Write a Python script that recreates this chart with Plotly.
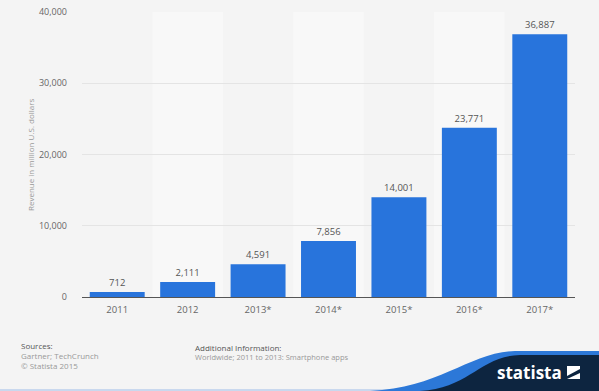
import plotly.graph_objects as go

years = ["2011", "2012", "2013*", "2014*", "2015*", "2016*", "2017*"]
revenue = [712, 2111, 4591, 7856, 14001, 23771, 36887]
value_labels = ["712", "2,111", "4,591", "7,856", "14,001", "23,771", "36,887"]
y_ticks = [0, 10000, 20000, 30000, 40000]
y_tick_labels = ["0", "10,000", "20,000", "30,000", "40,000"]

W, H = 599, 391
L, R, T, B = 82, 24, 12, 94
PW, PH = W - L - R, H - T - B
FONT = "Open Sans"


def px(x):
    return (x - L) / PW


def py(y):
    return (H - B - y) / PH


fig = go.Figure()
fig.add_trace(go.Bar(
    x=years, y=revenue, text=value_labels, textposition="outside",
    marker=dict(color="#2874dc", line=dict(width=0)),
    textfont=dict(color="#555555", size=9.5, family=FONT),
    cliponaxis=False, hoverinfo="skip",
))

shapes = []
# alternating column bands
for i in range(1, len(years), 2):
    shapes.append(dict(type="rect", xref="x", yref="paper", x0=i - 0.5, x1=i + 0.5,
                       y0=0, y1=1, fillcolor="#f8f8f8", line=dict(width=0), layer="below"))

# footer wave
blue_path = (f"M {px(370)},{py(391)} C {px(440)},{py(388)} {px(470)},{py(352)} {px(515)},{py(351)} "
             f"L {px(599)},{py(351)} L {px(599)},{py(391)} Z")
navy_path = (f"M {px(420)},{py(391)} C {px(470)},{py(388)} {px(480)},{py(356)} {px(520)},{py(355)} "
             f"L {px(599)},{py(355)} L {px(599)},{py(391)} Z")
shapes.append(dict(type="rect", xref="paper", yref="paper", x0=px(0), x1=px(599),
                   y0=py(391), y1=py(389), fillcolor="#c9d8ee", line=dict(width=0)))
shapes.append(dict(type="path", xref="paper", yref="paper", path=blue_path,
                   fillcolor="#2c78d8", line=dict(width=0)))
shapes.append(dict(type="path", xref="paper", yref="paper", path=navy_path,
                   fillcolor="#0d2540", line=dict(width=0)))
# logo icon
shapes.append(dict(type="rect", xref="paper", yref="paper", x0=px(567), x1=px(580),
                   y0=py(379), y1=py(366), fillcolor="#ffffff", line=dict(width=0)))
shapes.append(dict(type="path", xref="paper", yref="paper",
                   path=f"M {px(567)},{py(376)} L {px(580)},{py(369)} L {px(580)},{py(373)} L {px(567)},{py(379)} Z",
                   fillcolor="#0d2540", line=dict(width=0)))


def note(text, x, y, size, color, xanchor="left", angle=0, family=FONT):
    return dict(text=text, x=px(x), y=py(y), xref="paper", yref="paper", xanchor=xanchor,
                yanchor="middle", textangle=angle, showarrow=False,
                font=dict(size=size, color=color, family=family))


annotations = [
    note("Revenue in million U.S. dollars", 30, 155, 8, "#999999", xanchor="center", angle=-90),
    note("Sources:", 19, 345, 8, "#555555"),
    note("Gartner; TechCrunch", 19, 355, 8, "#999999"),
    note("© Statista 2015", 19, 365, 8, "#999999"),
    note("Additional Information:", 193, 347, 8, "#555555"),
    note("Worldwide; 2011 to 2013: Smartphone apps", 193, 357, 7.5, "#999999"),
    note("<b>statista</b>", 564, 372, 17, "#ffffff", xanchor="right"),
]

fig.update_layout(
    width=W, height=H, margin=dict(l=L, r=R, t=T, b=B, autoexpand=False),
    paper_bgcolor="#f4f4f4", plot_bgcolor="#f4f4f4",
    bargap=0.22, showlegend=False,
    shapes=shapes, annotations=annotations,
    font=dict(family=FONT, color="#666666", size=10),
    xaxis=dict(type="category", showgrid=False, showline=True, linecolor="#555555", linewidth=1,
               ticks="", ticklabelstandoff=4, tickfont=dict(size=9.5, color="#666666", family=FONT),
               fixedrange=True, automargin=False),
    yaxis=dict(range=[0, 40000], tickvals=y_ticks, ticktext=y_tick_labels, showgrid=True,
               gridcolor="#e4e4e4", gridwidth=1, zeroline=False, ticks="", ticklabelstandoff=14,
               tickfont=dict(size=9, color="#666666", family=FONT), fixedrange=True, automargin=False),
)

fig.write_html(
    "out.html",
    config={"displayModeBar": False},
    post_script="document.body.style.margin='0';document.body.style.background='#f4f4f4';"
                "document.documentElement.style.overflow='hidden';",
)
